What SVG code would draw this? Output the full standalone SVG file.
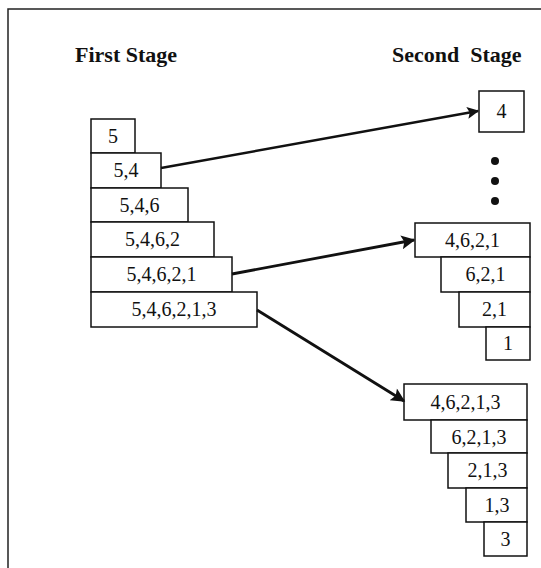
<svg xmlns="http://www.w3.org/2000/svg" width="541" height="568" viewBox="0 0 541 568">
<style>
.box{fill:#fff;stroke:#111;stroke-width:1.5}
.lbl{font-family:"Liberation Serif","Times New Roman",serif;font-size:20px;fill:#111;text-anchor:middle}
.title{font-family:"Liberation Serif","Times New Roman",serif;font-size:22px;font-weight:bold;fill:#111}
.conn{stroke:#111;stroke-width:2.8;fill:none}
.frame{stroke:#222;stroke-width:1.5;fill:none}
</style>
<defs>
<marker id="arr" viewBox="0 0 10 10" refX="9" refY="5" markerWidth="6.5" markerHeight="5" markerUnits="strokeWidth" orient="auto">
<path d="M0,0 L10,5 L0,10 L2,5 z" fill="#111"/>
</marker>
</defs>
<rect width="541" height="568" fill="#fff"/>
<path class="frame" d="M8,570 L8,9 L545,9"/>
<text class="title" x="75" y="62">First Stage</text>
<text class="title" x="392" y="62" xml:space="preserve">Second  Stage</text>

<g id="L1"><rect class="box" x="91" y="119" width="44" height="34"/><text class="lbl" x="113" y="143">5</text></g>
<g id="L2"><rect class="box" x="91" y="153" width="70" height="35"/><text class="lbl" x="126" y="177">5,4</text></g>
<g id="L3"><rect class="box" x="91" y="188" width="97" height="34"/><text class="lbl" x="139.5" y="212">5,4,6</text></g>
<g id="L4"><rect class="box" x="91" y="222" width="123" height="35"/><text class="lbl" x="152.5" y="246">5,4,6,2</text></g>
<g id="L5"><rect class="box" x="91" y="257" width="141" height="35"/><text class="lbl" x="161.5" y="281">5,4,6,2,1</text></g>
<g id="L6"><rect class="box" x="91" y="292" width="166" height="35"/><text class="lbl" x="174" y="316">5,4,6,2,1,3</text></g>

<g id="R0"><rect class="box" x="479" y="91" width="45" height="41"/><text class="lbl" x="501.5" y="118">4</text></g>
<g id="dots"><circle cx="495" cy="161" r="4" fill="#111"/><circle cx="495" cy="181" r="4" fill="#111"/><circle cx="495" cy="201" r="4" fill="#111"/></g>

<g id="A1"><rect class="box" x="415" y="223" width="115" height="34"/><text class="lbl" x="472.5" y="247">4,6,2,1</text></g>
<g id="A2"><rect class="box" x="441" y="257" width="89" height="35"/><text class="lbl" x="485.5" y="281">6,2,1</text></g>
<g id="A3"><rect class="box" x="459" y="292" width="71" height="35"/><text class="lbl" x="494.5" y="316">2,1</text></g>
<g id="A4"><rect class="box" x="486" y="327" width="44" height="33"/><text class="lbl" x="508" y="350">1</text></g>

<g id="B1"><rect class="box" x="404" y="384" width="123" height="36"/><text class="lbl" x="465.5" y="409">4,6,2,1,3</text></g>
<g id="B2"><rect class="box" x="431" y="420" width="96" height="33"/><text class="lbl" x="479" y="444">6,2,1,3</text></g>
<g id="B3"><rect class="box" x="448" y="453" width="79" height="35"/><text class="lbl" x="487.5" y="477">2,1,3</text></g>
<g id="B4"><rect class="box" x="466" y="488" width="61" height="34"/><text class="lbl" x="497" y="512">1,3</text></g>
<g id="B5"><rect class="box" x="484" y="522" width="43" height="34"/><text class="lbl" x="505.5" y="546">3</text></g>

<g id="connectors">
<line class="conn" style="stroke-width:2.4" x1="161" y1="168" x2="478" y2="111" marker-end="url(#arr)"/>
<line class="conn" x1="232" y1="274" x2="414" y2="240" marker-end="url(#arr)"/>
<line class="conn" x1="257" y1="310" x2="404" y2="401" marker-end="url(#arr)"/>
</g>
</svg>
